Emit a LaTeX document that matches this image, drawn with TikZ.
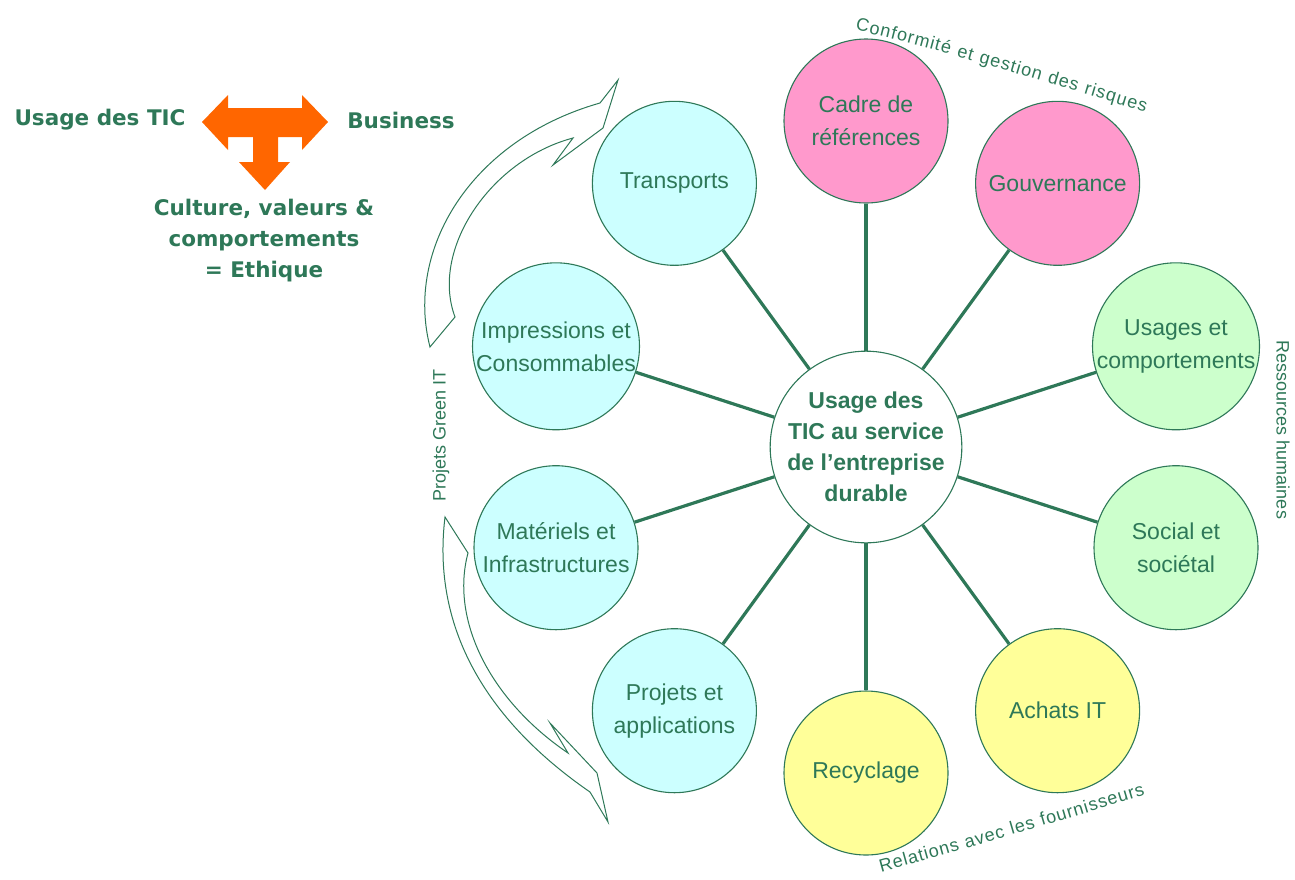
\documentclass[tikz,border=0pt]{standalone}
\usepackage{fontspec}
\setmainfont{Liberation Sans}
\newfontfamily\headfont{DejaVu Sans}
\usepackage{tikz}
\usetikzlibrary{decorations.text}
\definecolor{ticgreen}{RGB}{46, 120, 88}
\definecolor{ticorange}{RGB}{255, 102, 0}
\definecolor{ticcyan}{RGB}{204, 255, 255}
\definecolor{ticpink}{RGB}{255, 153, 204}
\definecolor{ticmint}{RGB}{204, 255, 204}
\definecolor{ticyellow}{RGB}{255, 255, 153}

\begin{document}
\begin{tikzpicture}[
            x=1pt, y=-1pt,
            circ/.style={circle, draw=ticgreen, line width=1.1pt, minimum size=164pt, inner sep=0pt, align=center, text=ticgreen, font=\fontsize{23}{33}\selectfont},
            cyancirc/.style={circ, fill=ticcyan},
            pinkcirc/.style={circ, fill=ticpink},
            mintcirc/.style={circ, fill=ticmint},
            yellowcirc/.style={circ, fill=ticyellow},
            hubcirc/.style={circ, fill=white, font=\bfseries\fontsize{23}{31}\selectfont},
            headtext/.style={text=ticgreen, align=center, font=\headfont\bfseries\fontsize{21.5}{31}\selectfont},
            sidetext/.style={text=ticgreen, font=\fontsize{18}{18}\selectfont},
            spoke/.style={draw=ticgreen, line width=3.2pt},
            hollowarrow/.style={draw=ticgreen, fill=white, line width=1pt, line join=miter}
        ]
            \useasboundingbox (0,0) rectangle (1295,879);

            % ethics block, top left
            \node[headtext] (tic) at (100,120) {Usage des TIC};
            \node[headtext] (business) at (401,120) {Business};
            \node[headtext] (ethique) at (264,241) {Culture, valeurs \&\\comportements\\= Ethique};
            \fill[ticorange] (202,122) -- (228,95) -- (228,108) -- (302,108) -- (302,95) -- (328,122)
                -- (302,150) -- (302,137) -- (278,137) -- (278,162) -- (290,162) -- (265,190)
                -- (239,162) -- (253,162) -- (253,137) -- (228,137) -- (228,150) -- cycle;

            % hub and its ten satellites
            \node[hubcirc] (hub) at (866,447) {Usage des\\TIC au service\\de l'entreprise\\durable};

            \node[pinkcirc] (cadre) at (866,121) {Cadre de\\références};
            \node[pinkcirc] (gouv) at (1057.6,183.3) {Gouvernance};
            \node[mintcirc] (usages) at (1176,346.3) {Usages et\\comportements};
            \node[mintcirc] (social) at (1176,547.7) {Social et\\sociétal};
            \node[yellowcirc] (achats) at (1057.6,710.7) {Achats IT};
            \node[yellowcirc] (recycl) at (866,773) {Recyclage};
            \node[cyancirc] (projets) at (674.4,710.7) {Projets et\\applications};
            \node[cyancirc] (materiels) at (556,547.7) {Matériels et\\Infrastructures};
            \node[cyancirc] (impress) at (556,346.3) {Impressions et\\Consommables};
            \node[cyancirc] (transp) at (674.4,183.3) {Transports};

            \draw[spoke] (hub) -- (cadre);
            \draw[spoke] (hub) -- (gouv);
            \draw[spoke] (hub) -- (usages);
            \draw[spoke] (hub) -- (social);
            \draw[spoke] (hub) -- (achats);
            \draw[spoke] (hub) -- (recycl);
            \draw[spoke] (hub) -- (projets);
            \draw[spoke] (hub) -- (materiels);
            \draw[spoke] (hub) -- (impress);
            \draw[spoke] (hub) -- (transp);

            % curved arrows around the Green IT projects
            \draw[hollowarrow] (430,347) .. controls (405,250) and (470,140) .. (600,103)
                -- (618,80) -- (603,128) -- (553,165) -- (573,138)
                .. controls (490,160) and (430,250) .. (455,317) -- cycle;
            \draw[hollowarrow] (445,517) .. controls (430,640) and (500,730) .. (590,792)
                -- (608,822) -- (597,773) -- (550,723) -- (568,753)
                .. controls (490,700) and (450,620) .. (468,553) -- cycle;

            % side labels
            \node[sidetext, rotate=90] (green) at (441,435) {Projets Green IT};
            \node[sidetext, rotate=-90] (rh) at (1283,430) {Ressources humaines};
            \path[decorate, decoration={text along path, text align=fit to path, text color=ticgreen,
                text={|\fontsize{18}{18}\selectfont|Conformité et gestion des risques}}]
                (855,30) .. controls (950,52) and (1045,82) .. (1145,112);
            \path[decorate, decoration={text along path, text align=fit to path, text color=ticgreen,
                text={|\fontsize{18}{18}\selectfont|Relations avec les fournisseurs}}]
                (881,872) .. controls (965,849) and (1050,824) .. (1145,795);
        \end{tikzpicture}
\end{document}
